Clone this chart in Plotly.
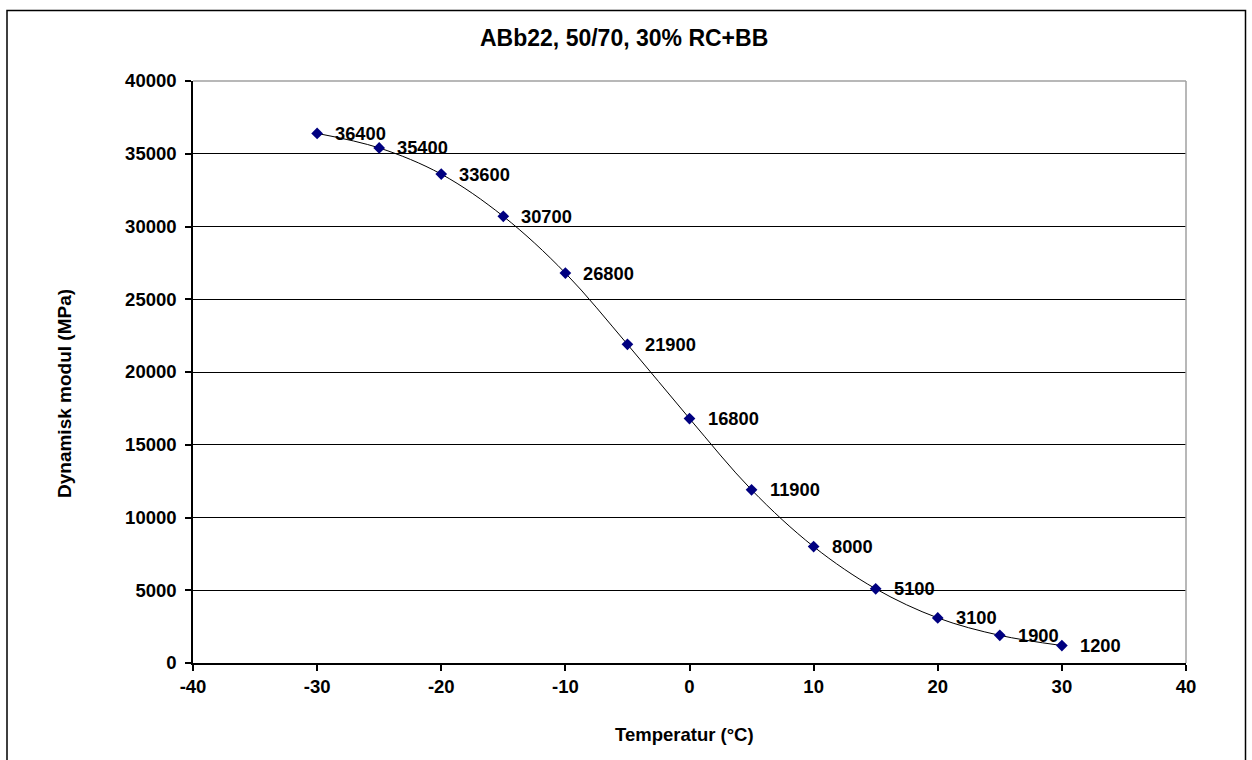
import plotly.graph_objects as go

temperature = [-30, -25, -20, -15, -10, -5, 0, 5, 10, 15, 20, 25, 30]
modulus = [36400, 35400, 33600, 30700, 26800, 21900, 16800, 11900, 8000, 5100, 3100, 1900, 1200]
x_ticks = [-40, -30, -20, -10, 0, 10, 20, 30, 40]
y_ticks = [0, 5000, 10000, 15000, 20000, 25000, 30000, 35000, 40000]

title_text = "ABb22, 50/70, 30% RC+BB"
x_title = "Temperatur (°C)"
y_title = "Dynamisk modul (MPa)"

W, H = 1252, 760
L, R, T, B = 193, 1186, 81, 663


def px(xp):
    return (xp - L) / (R - L)


def py(yp):
    return (B - yp) / (B - T)


FONT = "Liberation Sans, Arial, sans-serif"

fig = go.Figure()
fig.add_trace(go.Scatter(
    x=temperature, y=modulus,
    mode="lines+markers",
    line=dict(color="black", width=1, shape="spline", smoothing=1),
    marker=dict(symbol="diamond", size=9, color="#000080",
                line=dict(color="#000080", width=0)),
    showlegend=False,
    hoverinfo="x+y",
))

annotations = []
for t, m in zip(temperature, modulus):
    annotations.append(dict(
        x=t, y=m, xref="x", yref="y", text=str(m), showarrow=False,
        xanchor="left", yanchor="middle", xshift=16, yshift=0,
        font=dict(family=FONT, size=18.3, color="black", weight="bold"),
    ))

annotations.append(dict(x=px(623.5), y=py(38), xref="paper", yref="paper",
                        text=title_text, showarrow=False, xanchor="center", yanchor="middle",
                        font=dict(family=FONT, size=23, color="black", weight="bold")))
annotations.append(dict(x=px(684), y=py(734), xref="paper", yref="paper",
                        text=x_title, showarrow=False, xanchor="center", yanchor="middle",
                        font=dict(family=FONT, size=18.5, color="black", weight="bold")))
annotations.append(dict(x=px(64), y=py(394), xref="paper", yref="paper",
                        text=y_title, showarrow=False, xanchor="center", yanchor="middle",
                        textangle=-90,
                        font=dict(family=FONT, size=19, color="black", weight="bold")))

shapes = [
    # outer chart border
    dict(type="rect", xref="paper", yref="paper",
         x0=px(7), x1=px(1245.5), y0=py(790), y1=py(10.5),
         line=dict(color="black", width=1.5), layer="above"),
    # grey top and right edges of plot area
    dict(type="line", xref="paper", yref="paper", x0=0, x1=1, y0=1, y1=1,
         line=dict(color="#a0a0a0", width=1.5), layer="above"),
    dict(type="line", xref="paper", yref="paper", x0=1, x1=1, y0=0, y1=1,
         line=dict(color="#a0a0a0", width=1.5), layer="above"),
]

fig.update_layout(
    width=W, height=H,
    margin=dict(l=L, r=W - R, t=T, b=H - B, pad=0),
    paper_bgcolor="white", plot_bgcolor="white",
    annotations=annotations,
    shapes=shapes,
    font=dict(family=FONT, color="black"),
)

fig.update_xaxes(
    range=[-40, 40], tickvals=x_ticks, ticktext=[str(v) for v in x_ticks],
    showgrid=False, zeroline=False,
    showline=True, linecolor="black", linewidth=1.5,
    ticks="outside", ticklen=6, tickcolor="black", tickwidth=1.5,
    tickfont=dict(family=FONT, size=18.5, color="black", weight="bold"),
)
fig.update_yaxes(
    range=[0, 40000], tickvals=y_ticks, ticktext=[str(v) for v in y_ticks],
    showgrid=True, gridcolor="black", gridwidth=1.3, zeroline=False,
    showline=True, linecolor="black", linewidth=1.5,
    ticks="outside", ticklen=6, tickcolor="black", tickwidth=1.5,
    ticklabelstandoff=5,
    tickfont=dict(family=FONT, size=18.5, color="black", weight="bold"),
)

fig.write_html("out.html")
